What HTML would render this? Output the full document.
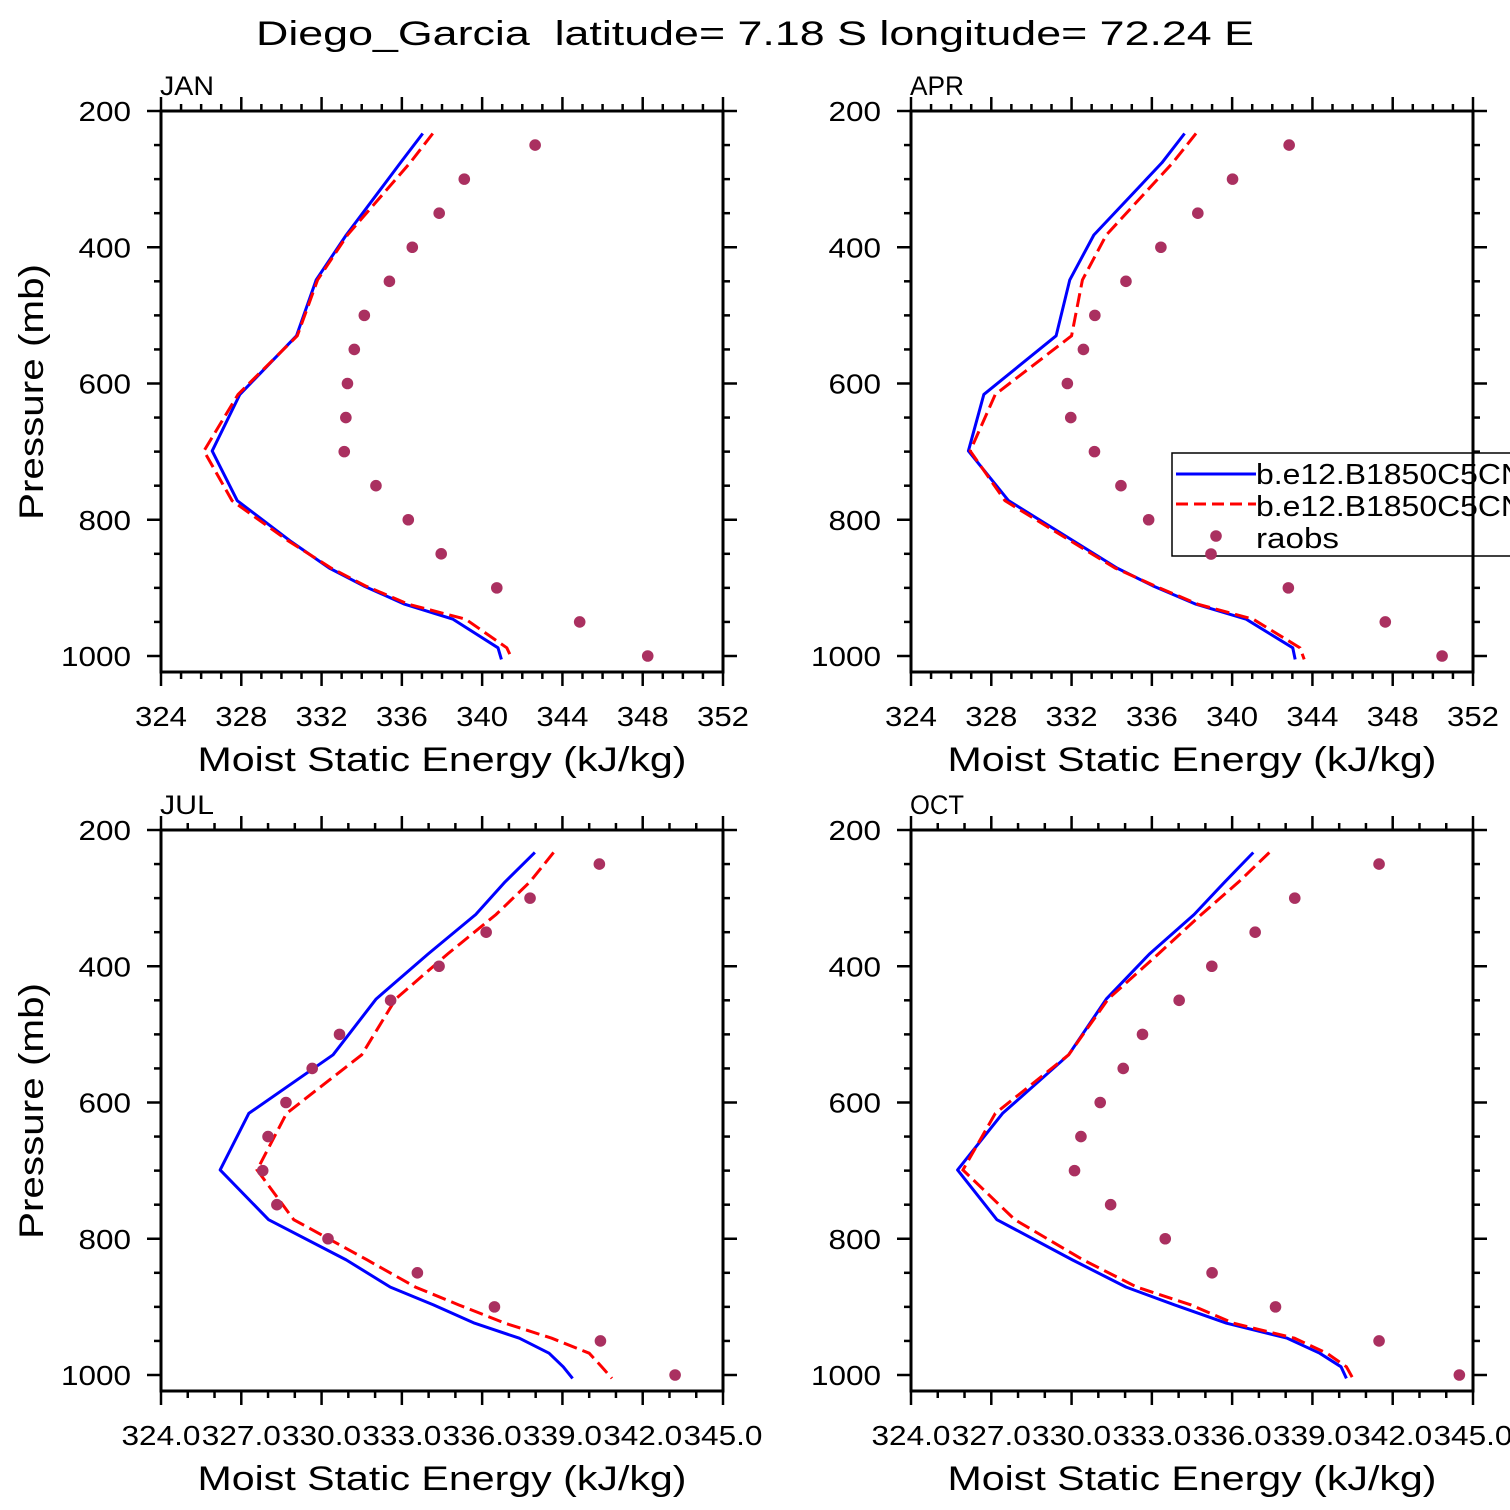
<!DOCTYPE html>
<html><head><meta charset="utf-8"><style>
html,body{margin:0;padding:0;background:#fff;width:1510px;height:1510px;overflow:hidden}
svg text{font-family:"Liberation Sans",sans-serif;fill:#000}
</style></head><body>
<svg id="chart" width="1510" height="1510" viewBox="0 0 1510 1510" xmlns="http://www.w3.org/2000/svg">
<text x="755" y="45" font-size="34" text-anchor="middle" textLength="998" lengthAdjust="spacingAndGlyphs">Diego_Garcia&#160;&#160;latitude= 7.18 S longitude= 72.24 E</text>
</svg>
<script>
const pLevTop = [233,276,382,448,530,616,699,772,831,871,897,924,946,988,1005];
const pLevBot = [233,276,324,382,448,530,616,699,772,831,871,897,924,946,968,988,1005];
const pObs = [250,300,350,400,450,500,550,600,650,700,750,800,850,900,950,1000];
const janBlue = [337.04,335.93,333.23,331.73,330.75,327.93,326.55,327.80,330.43,332.39,334.09,336.14,338.55,340.79,340.96];
const janRed = [337.54,336.41,333.29,331.80,330.79,327.84,326.14,327.54,330.34,332.48,334.18,336.32,339.18,341.23,341.50];
const janObs = [342.64,339.11,337.86,336.52,335.38,334.13,333.63,333.29,333.21,333.13,334.71,336.32,337.96,340.73,344.86,348.25];
const aprBlue = [337.63,336.50,333.11,331.91,331.23,327.63,326.86,328.86,332.09,334.27,336.05,338.20,340.70,343.02,343.14];
const aprRed = [338.20,337.04,333.73,332.54,332.00,328.20,326.95,328.68,331.95,334.18,336.14,338.29,341.05,343.38,343.59];
const aprObs = [342.84,340.02,338.29,336.45,334.71,333.16,332.59,331.79,331.96,333.14,334.46,335.84,338.96,342.80,347.63,350.46];
const julBlue = [338.00,336.89,335.79,334.01,332.07,330.46,327.31,326.24,328.05,330.95,332.60,334.21,335.75,337.42,338.53,339.06,339.41];
const julRed = [338.70,337.82,336.55,334.74,332.80,331.53,328.72,327.62,328.99,331.73,333.54,335.15,336.89,338.63,340.03,340.50,340.88];
const julObs = [340.41,337.82,336.18,334.42,332.61,330.70,329.68,328.70,328.03,327.83,328.36,330.27,333.61,336.49,340.45,343.24];
const octBlue = [336.82,335.76,334.61,332.94,331.33,329.92,327.45,325.77,327.24,330.06,332.07,333.87,335.82,338.09,339.30,340.10,340.30];
const octRed = [337.42,336.28,334.88,333.27,331.40,329.92,327.18,325.97,327.91,330.46,332.47,334.48,336.08,338.36,339.57,340.30,340.54];
const octObs = [341.52,338.37,336.89,335.27,334.05,332.68,331.96,331.10,330.38,330.14,331.49,333.53,335.28,337.65,341.52,344.52];
const xTicksTop = ["324","328","332","336","340","344","348","352"];
const xTicksBot = ["324.0","327.0","330.0","333.0","336.0","339.0","342.0","345.0"];
const yTicks = ["200","400","600","800","1000"];
const legendLabels = ["b.e12.B1850C5CN","b.e12.B1850C5CN","raobs"];

const NS="http://www.w3.org/2000/svg";
const svg=document.getElementById('chart');
function mk(tag,attrs,parent){const e=document.createElementNS(NS,tag);for(const k in attrs)e.setAttribute(k,attrs[k]);(parent||svg).appendChild(e);return e;}

function panel(name,left,top,xmin,xmax,xstep,xTickLabels,pLev,blue,red,obs,showY){
  const W=562,H=561;
  const g=mk('g',{});
  
  
  const xs=v=>left+(v-xmin)/(xmax-xmin)*W;
  const ys=p=>top+(p-200)*0.68125;
  const lab=mk('text',{x:left-1,y:top-16,'font-size':27,textLength:name.length*18,lengthAdjust:'spacingAndGlyphs'},g);lab.textContent=name.toUpperCase();
  
  
  for(let p=200;p<=1020;p+=50){
    const major=(p%200===0);const L=major?14:7;const y=ys(p);
    mk('line',{x1:left-L,x2:left,y1:y,y2:y,stroke:'#000','stroke-width':2.5},g);
    mk('line',{x1:left+W,x2:left+W+L,y1:y,y2:y,stroke:'#000','stroke-width':2.5},g);
  }
  yTicks.forEach((t,i)=>{const tx=mk('text',{x:left-30,y:ys(200+i*200)+10,'font-size':28,'text-anchor':'end',textLength:t.length*17.5,lengthAdjust:'spacingAndGlyphs'},g);tx.textContent=t;
    
    });
  const nMinor=Math.round(xmax-xmin);
  for(let i=0;i<=nMinor;i++){
    const major=(i%xstep===0);const L=major?14:7;const x=left+i/nMinor*W;
    mk('line',{x1:x,x2:x,y1:top+H,y2:top+H+L,stroke:'#000','stroke-width':2.5},g);
    mk('line',{x1:x,x2:x,y1:top-L,y2:top,stroke:'#000','stroke-width':2.5},g);
  }
  xTickLabels.forEach((t,i)=>{const tx=mk('text',{x:left+i*xstep/nMinor*W,y:top+H+54,'font-size':28,'text-anchor':'middle',textLength:(t.length>3?79:52),lengthAdjust:'spacingAndGlyphs'},g);
    tx.textContent=t;
    
    });
  const xt=mk('text',{x:left+281,y:top+H+99,'font-size':34,'text-anchor':'middle',textLength:489,lengthAdjust:'spacingAndGlyphs'},g);
  xt.textContent='Moist Static Energy (kJ/kg)';
  
  
  if(showY){
    const yt=mk('text',{x:0,y:0,'font-size':34,'text-anchor':'middle',textLength:256,lengthAdjust:'spacingAndGlyphs',transform:`translate(${left-118},${top+281}) rotate(-90)`},g);
    yt.textContent='Pressure (mb)';
    
    
  }
  const lb=mk('polyline',{points:blue.map((v,i)=>xs(v)+','+ys(pLev[i])).join(' '),fill:'none',stroke:'#0000ff','stroke-width':3,'stroke-linejoin':'round'},g);
  
  
  const lr=mk('polyline',{points:red.map((v,i)=>xs(v)+','+ys(pLev[i])).join(' '),fill:'none',stroke:'#ff0000','stroke-width':3,'stroke-dasharray':'14 6'},g);
  
  
  obs.forEach((v,i)=>{const c=mk('circle',{cx:xs(v),cy:ys(pObs[i]),r:5.8,fill:'#aa3060'},g);
    
    });
  const fr=mk('rect',{x:left,y:top,width:W,height:H,fill:'none',stroke:'#000','stroke-width':3},g);
  
  
}
panel('jan',161,111,324,352,4,xTicksTop,pLevTop,janBlue,janRed,janObs,true);
panel('apr',911,111,324,352,4,xTicksTop,pLevTop,aprBlue,aprRed,aprObs,false);
panel('jul',161,830,324.03,345.03,3,xTicksBot,pLevBot,julBlue,julRed,julObs,true);
panel('oct',911,830,324.03,345.03,3,xTicksBot,pLevBot,octBlue,octRed,octObs,false);

const lg=mk('g',{});


mk('rect',{x:1172,y:453,width:360,height:103,fill:'#fff',stroke:'#000','stroke-width':1.5},lg);
mk('line',{x1:1176,x2:1256,y1:474,y2:474,stroke:'#0000ff','stroke-width':3},lg);
mk('line',{x1:1176,x2:1256,y1:504,y2:504,stroke:'#ff0000','stroke-width':3,'stroke-dasharray':'12 6'},lg);
mk('circle',{cx:1216,cy:536,r:5.8,fill:'#aa3060'},lg);
legendLabels.forEach((t,i)=>{const tx=mk('text',{x:1256,y:484+i*32,'font-size':29,textLength:(i<2?268:83),lengthAdjust:'spacingAndGlyphs'},lg);tx.textContent=t;
  
  });
mk('line',{x1:1473,x2:1473,y1:111,y2:672,stroke:'#000','stroke-width':3});
mk('circle',{cx:1211,cy:554,r:5.8,fill:'#aa3060'});
</script>
</body></html>
